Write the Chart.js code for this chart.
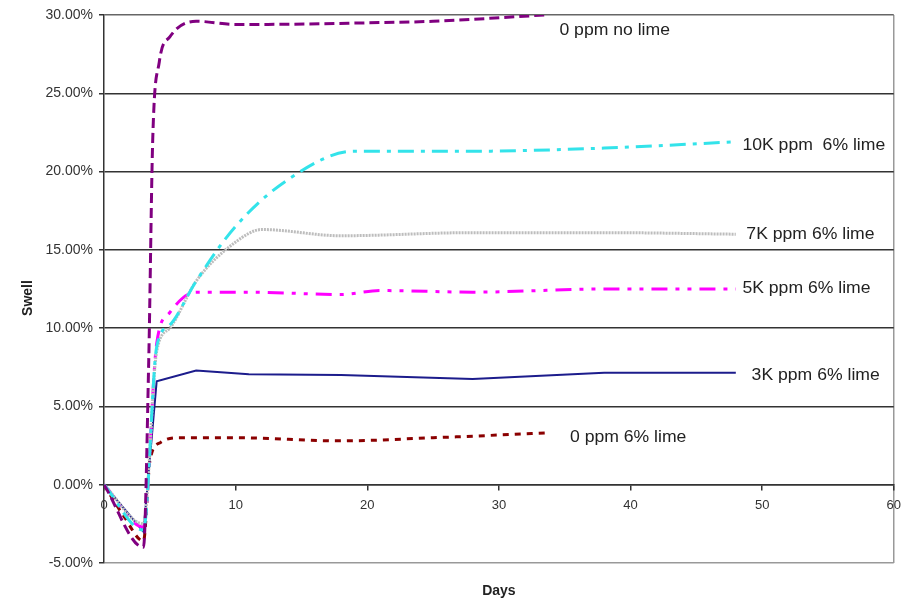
<!DOCTYPE html>
<html>
<head>
<meta charset="utf-8">
<script src="https://cdn.jsdelivr.net/npm/chart.js@4.4.1/dist/chart.umd.min.js"></script>
<style>
  html, body { margin: 0; padding: 0; background: #fff; }
  #wrap { width: 909px; height: 598px; }
</style>
</head>
<body>
<div id="wrap"><canvas id="swellChart"></canvas></div>
<script>
// tick values
const xTicks = [0, 10, 20, 30, 40, 50, 60];
const yTicks = [-5, 0, 5, 10, 15, 20, 25, 30];

// series (days, swell %)
const noLimeDays  = [0, 3, 3.4, 3.7, 4.2, 5, 7, 10, 12, 20, 25, 33.5];
const noLimeSwell = [0, -4, 8, 22, 27, 28.6, 29.6, 29.4, 29.4, 29.5, 29.6, 30];

const k10Days  = [0, 3, 4, 5, 7, 10, 14, 19, 28, 38, 48];
const k10Swell = [0, -2.9, 8.8, 10.2, 13, 16.5, 19.5, 21.3, 21.3, 21.5, 21.9];

const k7Days  = [0, 3, 4, 5, 7, 10, 12, 18, 28, 38, 48];
const k7Swell = [0, -2.5, 8.5, 10, 13, 15.5, 16.3, 15.9, 16.1, 16.1, 16.0];

const k5Days  = [0, 3, 4, 5, 7, 11, 18, 21, 28, 38, 48];
const k5Swell = [0, -2.7, 9, 11, 12.3, 12.3, 12.15, 12.4, 12.3, 12.5, 12.5];

const k3Days  = [0, 3, 4, 7, 11, 18, 28, 38, 48];
const k3Swell = [0, -3.0, 6.6, 7.3, 7.05, 7.0, 6.75, 7.15, 7.15];

const zeroLimeDays  = [0, 1.5, 3, 3.5, 4.3, 5.5, 10, 18, 25, 33.5];
const zeroLimeSwell = [0, -2.0, -3.6, 1.6, 2.7, 3.0, 3.0, 2.8, 3.0, 3.3];

// series labels drawn next to the lines (days, swell %)
const seriesNames = ['0 ppm no lime', '10K ppm  6% lime', '7K ppm 6% lime', '5K ppm 6% lime', '3K ppm 6% lime', '0 ppm 6% lime'];
const labelDays  = [34.6, 48.5, 48.8, 48.5, 49.2, 35.4];
const labelSwell = [29.0, 21.65, 15.96, 12.5, 6.96, 3.0];

const pts = (xs, ys) => xs.map((x, i) => ({ x: x, y: ys[i] }));

// text next to the lines + axis titles
const textPlugin = {
  id: 'textPlugin',
  afterDraw(chart) {
    const ctx = chart.ctx;
    const sx = chart.scales.x, sy = chart.scales.y;
    ctx.save();
    ctx.fillStyle = '#222';
    ctx.font = '16px "Liberation Sans", Arial, sans-serif';
    ctx.textBaseline = 'middle';
    ctx.textAlign = 'left';
    seriesNames.forEach((name, i) => {
      const px = sx.getPixelForValue(labelDays[i]);
      const py = sy.getPixelForValue(labelSwell[i]);
      ctx.save();
      ctx.translate(px, py);
      ctx.scale(1.1, 1);
      ctx.fillText(name, 0, 0);
      ctx.restore();
    });
    ctx.font = 'bold 14px "Liberation Sans", Arial, sans-serif';
    ctx.textAlign = 'center';
    ctx.fillText('Days', (chart.chartArea.left + chart.chartArea.right) / 2, 591);
    ctx.save();
    ctx.translate(28, 298);
    ctx.rotate(-Math.PI / 2);
    ctx.fillText('Swell', 0, 0);
    ctx.restore();
    ctx.restore();
  }
};

new Chart(document.getElementById('swellChart').getContext('2d'), {
  type: 'scatter',
  data: {
    datasets: [
      {
        label: '0 ppm no lime',
        data: pts(noLimeDays, noLimeSwell),
        borderColor: '#800080',
        borderWidth: 3,
        borderDash: [10, 5],
        cubicInterpolationMode: 'monotone'
      },
      {
        label: '10K ppm 6% lime',
        data: pts(k10Days, k10Swell),
        borderColor: '#33E3EA',
        borderWidth: 3,
        borderDash: [16, 7, 4, 7],
        cubicInterpolationMode: 'monotone'
      },
      {
        label: '7K ppm 6% lime',
        data: pts(k7Days, k7Swell),
        borderColor: '#BDBDBD',
        borderWidth: 3,
        borderDash: [2, 1],
        cubicInterpolationMode: 'monotone'
      },
      {
        label: '5K ppm 6% lime',
        data: pts(k5Days, k5Swell),
        borderColor: '#FF00FF',
        borderWidth: 3,
        borderDash: [16, 8, 4, 8, 4, 8],
        cubicInterpolationMode: 'monotone'
      },
      {
        label: '3K ppm 6% lime',
        data: pts(k3Days, k3Swell),
        borderColor: '#1C1C8C',
        borderWidth: 2
      },
      {
        label: '0 ppm 6% lime',
        data: pts(zeroLimeDays, zeroLimeSwell),
        borderColor: '#8B0000',
        borderWidth: 3,
        borderDash: [6, 6],
        cubicInterpolationMode: 'monotone'
      }
    ]
  },
  options: {
    responsive: true,
    maintainAspectRatio: false,
    animation: false,
    showLine: true,
    elements: {
      point: { radius: 0, hoverRadius: 0 }
    },
    layout: {
      padding: { left: 0, right: 14, top: 15, bottom: 35 }
    },
    plugins: {
      legend: { display: false },
      tooltip: { enabled: false }
    },
    scales: {
      x: {
        type: 'linear',
        min: 0,
        max: 60,
        position: { y: 0 },
        afterBuildTicks: function (scale) {
          scale.ticks = xTicks.map(v => ({ value: v }));
        },
        ticks: {
          color: '#333',
          padding: 8,
          font: { family: '"Liberation Sans", Arial, sans-serif', size: 13 }
        },
        grid: {
          color: function (c) {
            return c.tick && c.tick.value === 60 ? '#999' : 'rgba(0,0,0,0)';
          },
          tickColor: '#333',
          tickLength: 5,
          lineWidth: 1.5
        },
        border: { color: '#333', width: 1.5 }
      },
      y: {
        min: -5,
        max: 30,
        afterBuildTicks: function (scale) {
          scale.ticks = yTicks.map(v => ({ value: v }));
        },
        afterFit: function (scale) {
          scale.width = 104;
        },
        ticks: {
          color: '#333',
          padding: 6,
          font: { family: '"Liberation Sans", Arial, sans-serif', size: 14 },
          callback: function (value) {
            return value.toFixed(2) + '%';
          }
        },
        grid: {
          color: function (c) {
            if (c.tick && c.tick.value === -5) return '#999';
            if (c.tick && c.tick.value === 30) return '#666';
            return '#333';
          },
          tickColor: '#333',
          tickLength: 5,
          lineWidth: 1.5
        },
        border: { color: '#333', width: 1.5 }
      }
    }
  },
  plugins: [textPlugin]
});
</script>
</body>
</html>
